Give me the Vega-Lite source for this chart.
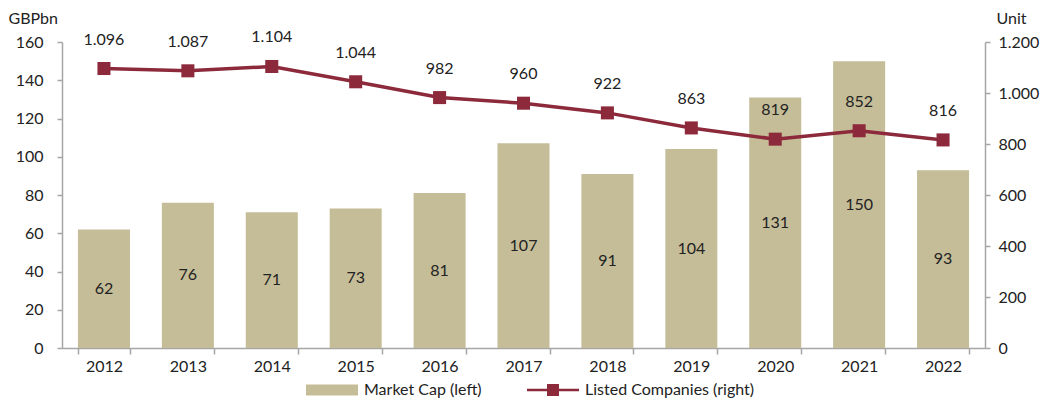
{
  "$schema": "https://vega.github.io/schema/vega-lite/v6.json",
  "width": 923,
  "height": 306,
  "autosize": {"type": "none"},
  "padding": {"left": 62, "top": 42, "right": 55, "bottom": 52},
  "background": "white",
  "config": {
    "view": {"stroke": null},
    "font": "Lato",
    "locale": {"number": {"decimal": ",", "thousands": ".", "grouping": [3], "currency": ["", ""]}},
    "axis": {"labelFont": "Lato", "labelFontSize": 16, "labelColor": "#222222", "domainColor": "#A6A6A6", "tickColor": "#A6A6A6", "domainWidth": 1.5, "tickWidth": 1.5, "grid": false, "titleFont": "Lato", "titleFontSize": 16, "titleFontWeight": "normal", "titleColor": "#222222"},
    "legend": {"labelFont": "Lato", "labelFontSize": 16, "labelColor": "#222222", "labelLimit": 400}
  },
  "data": {"values": [
    {"year": "2012", "cap": 62, "companies": 1096},
    {"year": "2013", "cap": 76, "companies": 1087},
    {"year": "2014", "cap": 71, "companies": 1104},
    {"year": "2015", "cap": 73, "companies": 1044},
    {"year": "2016", "cap": 81, "companies": 982},
    {"year": "2017", "cap": 107, "companies": 960},
    {"year": "2018", "cap": 91, "companies": 922},
    {"year": "2019", "cap": 104, "companies": 863},
    {"year": "2020", "cap": 131, "companies": 819},
    {"year": "2021", "cap": 150, "companies": 852},
    {"year": "2022", "cap": 93, "companies": 816}
  ]},
  "encoding": {
    "x": {"field": "year", "type": "ordinal", "scale": {"paddingInner": 0.38, "paddingOuter": 0.19},
      "axis": {"title": null, "labelAngle": 0, "tickBand": "extent", "tickSize": 6, "labelPadding": 4}}
  },
  "layer": [
    {
      "mark": {"type": "bar"},
      "encoding": {
        "y": {"field": "cap", "type": "quantitative", "scale": {"domain": [0, 160], "nice": false},
          "axis": {"orient": "left", "values": [0, 20, 40, 60, 80, 100, 120, 140, 160], "tickSize": 5, "labelPadding": 14, "title": "GBPbn", "titleAngle": 0, "titleAlign": "left", "titleBaseline": "middle", "titleX": -54, "titleY": -24}},
        "color": {"datum": "Market Cap (left)", "type": "nominal",
          "scale": {"domain": ["Market Cap (left)", "Listed Companies (right)"], "range": ["#C5BD98", "#8C2A3C"]},
          "legend": {"title": null, "orient": "none", "direction": "horizontal", "legendX": 244, "legendY": 322, "symbolSize": 2704, "columnPadding": 45, "labelOffset": 6, "labelLimit": 400,
            "encode": {"symbols": {"update": {
              "shape": {"signal": "datum.value === 'Market Cap (left)' ? 'M-1,-0.21H1V0.21H-1Z' : 'M-1,-0.05H-0.23V-0.23H0.23V-0.05H1V0.05H0.23V0.23H-0.23V0.05H-1Z'"},
              "fill": {"signal": "datum.value === 'Market Cap (left)' ? '#C5BD98' : '#8C2A3C'"},
              "fillOpacity": {"value": 1},
              "strokeWidth": {"value": 0}
            }}}}
        }
      }
    },
    {
      "mark": {"type": "text", "fontSize": 16, "font": "Lato", "color": "#222222", "baseline": "middle"},
      "encoding": {
        "y": {"field": "cap", "type": "quantitative", "scale": {"domain": [0, 320], "nice": false}, "axis": null},
        "text": {"field": "cap", "type": "quantitative"}
      }
    },
    {
      "encoding": {
        "y": {"field": "companies", "type": "quantitative", "scale": {"domain": [0, 1200], "nice": false},
          "axis": {"orient": "right", "values": [0, 200, 400, 600, 800, 1000, 1200], "format": ",d", "tickSize": 5, "labelPadding": 8, "title": "Unit", "titleAngle": 0, "titleAlign": "left", "titleBaseline": "middle", "titleX": 11, "titleY": -24}}
      },
      "layer": [
        {
          "mark": {"type": "line", "strokeWidth": 3.5},
          "encoding": {"color": {"datum": "Listed Companies (right)", "type": "nominal"}}
        },
        {
          "mark": {"type": "point", "shape": "square", "filled": true, "size": 170, "opacity": 1},
          "encoding": {"color": {"datum": "Listed Companies (right)", "type": "nominal"}}
        },
        {
          "mark": {"type": "text", "fontSize": 16, "font": "Lato", "color": "#222222", "baseline": "middle", "dy": -29},
          "encoding": {"text": {"field": "companies", "type": "quantitative", "format": ",d"}}
        }
      ]
    }
  ],
  "resolve": {"scale": {"y": "independent"}}
}
